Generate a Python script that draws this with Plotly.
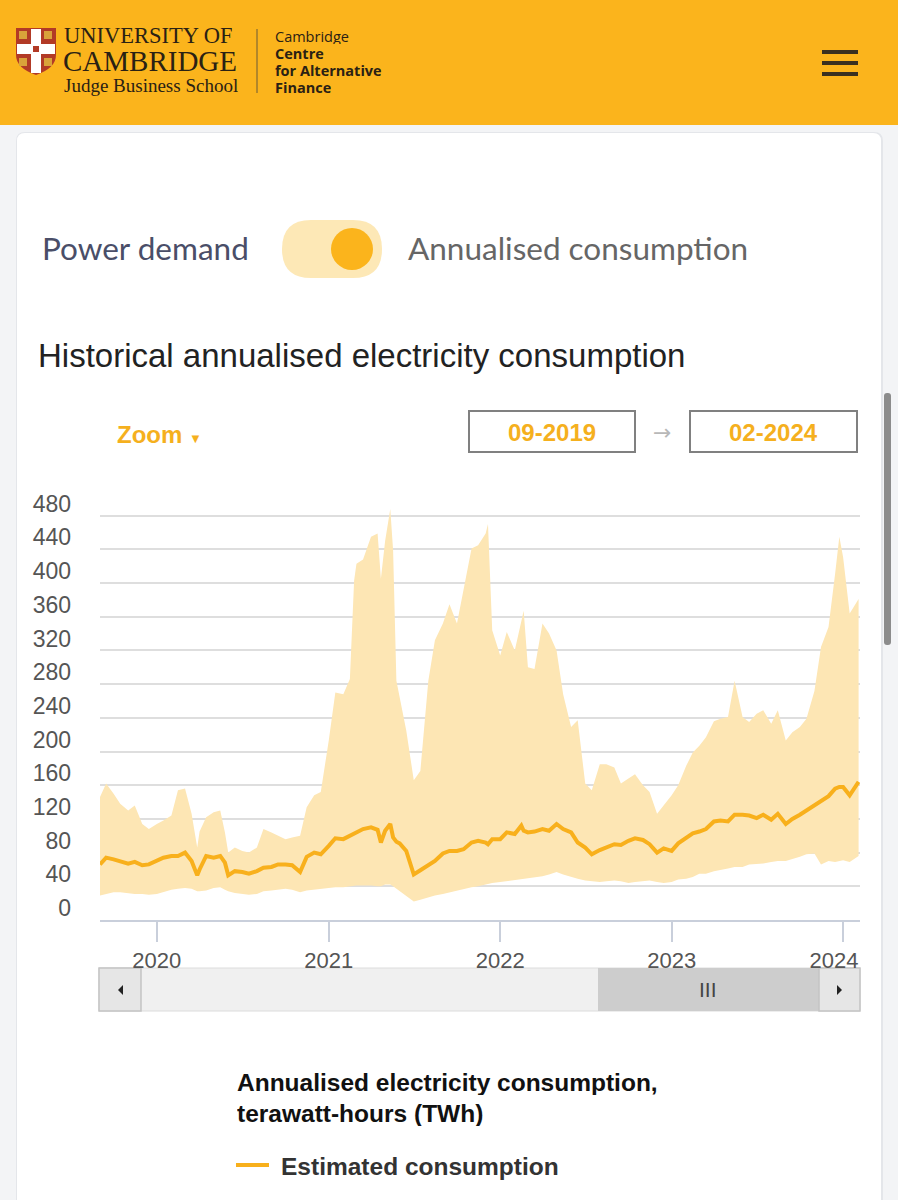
import plotly.graph_objects as go

W, H = 898, 1200

# ---------------- data ----------------
dates = [
    "2019-09-02", "2019-09-15", "2019-10-01", "2019-10-15", "2019-11-01", "2019-11-15", "2019-12-01", "2019-12-15",
    "2020-01-01", "2020-01-15", "2020-02-01", "2020-02-15", "2020-03-01", "2020-03-15", "2020-03-27", "2020-04-01",
    "2020-04-15", "2020-05-01", "2020-05-15", "2020-05-25", "2020-06-01", "2020-06-15", "2020-07-01", "2020-07-15",
    "2020-08-01", "2020-08-15", "2020-09-01", "2020-09-15", "2020-10-01", "2020-10-15", "2020-11-01", "2020-11-15",
    "2020-12-01", "2020-12-15",
    "2021-01-01", "2021-01-15", "2021-02-01", "2021-02-15", "2021-02-24", "2021-03-01", "2021-03-15", "2021-04-01",
    "2021-04-15", "2021-04-22", "2021-05-01", "2021-05-12", "2021-05-18", "2021-05-25", "2021-06-01", "2021-06-15",
    "2021-07-01", "2021-07-15", "2021-08-01", "2021-08-15", "2021-09-01", "2021-09-15", "2021-10-01", "2021-10-15",
    "2021-11-01", "2021-11-15", "2021-12-01", "2021-12-06", "2021-12-15",
    "2022-01-01", "2022-01-15", "2022-02-01", "2022-02-15", "2022-02-20", "2022-03-01", "2022-03-15", "2022-04-01",
    "2022-04-15", "2022-05-01", "2022-05-15", "2022-06-01", "2022-06-15", "2022-07-01", "2022-07-15", "2022-08-01",
    "2022-08-15", "2022-09-01", "2022-09-15", "2022-10-01", "2022-10-15", "2022-11-01", "2022-11-15", "2022-12-01",
    "2022-12-15",
    "2023-01-01", "2023-01-15", "2023-02-01", "2023-02-15", "2023-03-01", "2023-03-15", "2023-04-01", "2023-04-15",
    "2023-05-01", "2023-05-15", "2023-06-01", "2023-06-15", "2023-07-01", "2023-07-15", "2023-08-01", "2023-08-15",
    "2023-09-01", "2023-09-15", "2023-10-01", "2023-10-15", "2023-11-01", "2023-11-15", "2023-12-01", "2023-12-15",
    "2023-12-24", "2024-01-01", "2024-01-15", "2024-02-03",
]

upper = [
    146, 162, 150, 138, 130, 136, 114, 108,
    114, 118, 124, 154, 156, 126, 86, 105,
    122, 128, 130, 104, 80, 86, 82, 80,
    86, 108, 104, 100, 96, 98, 100, 134,
    148, 152,
    213, 270, 268, 286, 403, 423, 428, 455,
    459, 405, 450, 488, 439, 284, 264, 225,
    166, 177, 284, 332, 352, 375, 352, 391,
    441, 445, 459, 470, 344,
    314, 342, 320, 356, 367, 300, 298, 352,
    340, 320, 268, 229, 237, 162, 154, 185,
    185, 181, 162, 168, 173, 160, 152, 126,
    136,
    148, 160, 183, 199, 207, 217, 236, 239,
    241, 284, 241, 235, 245, 249, 233, 249,
    213, 223, 229, 239, 272, 324, 348, 411,
    455, 431, 364, 381,
]

estimate = [
    66, 74, 72, 70, 67, 69, 65, 66,
    70, 74, 76, 76, 80, 70, 53, 60,
    76, 74, 76, 68, 53, 58, 57, 55,
    58, 62, 63, 66, 66, 65, 57, 75,
    80, 78,
    88, 97, 96, 100, 103, 104, 108, 110,
    107, 92, 106, 114, 98, 93, 91, 82,
    54, 59, 65, 70, 79, 82, 82, 84,
    92, 94, 92, 90, 96,
    96, 104, 102, 112, 106, 104, 105, 108,
    106, 114, 108, 104, 92, 86, 78, 83,
    86, 90, 89, 94, 97, 95, 90, 80,
    85,
    82, 91, 97, 103, 105, 108, 117, 118,
    117, 125, 125, 124, 121, 125, 119, 126,
    114, 120, 125, 130, 136, 140, 147, 156,
    158, 158, 148, 164,
]

lower = [
    29, 31, 33, 33, 32, 31, 31, 30,
    31, 33, 36, 37, 38, 37, 34, 34,
    35, 38, 39, 36, 34, 32, 31, 30,
    31, 34, 35, 36, 37, 36, 33, 35,
    36, 37,
    38, 39, 39, 40, 40, 41, 41, 41,
    40, 40, 42, 42, 40, 37, 34, 28,
    22, 24, 27, 29, 31, 33, 35, 37,
    39, 40, 42, 42, 44,
    45, 46, 48, 49, 49, 50, 51, 52,
    54, 57, 54, 51, 49, 47, 46, 45,
    46, 47, 46, 44, 45, 46, 47, 45,
    44,
    45, 48, 49, 51, 55, 55, 58, 59,
    61, 63, 63, 66, 67, 67, 69, 70,
    70, 72, 75, 78, 79, 66, 70, 69,
    70, 71, 69, 76,
]

y_ticks = [0, 40, 80, 120, 160, 200, 240, 280, 320, 360, 400, 440, 480, 520]
y_tick_text = ["0", "40", "80", "120", "160", "200", "240", "280", "320", "360", "400", "440", "480", ""]
x_ticks = ["2020-01-01", "2021-01-01", "2022-01-01", "2023-01-01", "2024-01-01"]
x_tick_text = ["2020", "2021", "2022", "2023", "2024\u00a0\u00a0\u00a0"]

# ---------------- colours ----------------
YELLOW = "#FBB41C"
LINE = "#F8B01C"
BAND = "#FDE6B4"
GRID = "#dedede"
AXIS = "#c9cfdb"
TICKTXT = "#555555"


def fx(x):
    return x / W


def fy(y):
    return 1 - y / H


shapes = []
annots = []


def rect(x0, y0, x1, y1, fill, line=None, lw=0):
    shapes.append(dict(type="rect", xref="paper", yref="paper",
                       x0=fx(x0), x1=fx(x1), y0=fy(y1), y1=fy(y0),
                       fillcolor=fill, line=dict(color=line or fill, width=lw), layer="below"))


def path(points, fill, line=None, lw=0, closed=True, layer="below"):
    d = ""
    for i, p in enumerate(points):
        if p[0] == "Q":
            d += f" Q{fx(p[1])},{fy(p[2])} {fx(p[3])},{fy(p[4])}"
        else:
            d += (" M" if i == 0 else " L") + f"{fx(p[0])},{fy(p[1])}"
    if closed:
        d += " Z"
    shapes.append(dict(type="path", xref="paper", yref="paper", path=d.strip(),
                       fillcolor=fill, line=dict(color=line or fill, width=lw), layer=layer))


def rrect(x0, y0, x1, y1, r, fill, line=None, lw=0):
    pts = [(x0 + r, y0), (x1 - r, y0), ("Q", x1, y0, x1, y0 + r), (x1, y1 - r),
           ("Q", x1, y1, x1 - r, y1), (x0 + r, y1), ("Q", x0, y1, x0, y1 - r),
           (x0, y0 + r), ("Q", x0, y0, x0 + r, y0)]
    path(pts, fill, line, lw)


def circle(cx, cy, r, fill):
    shapes.append(dict(type="circle", xref="paper", yref="paper",
                       x0=fx(cx - r), x1=fx(cx + r), y0=fy(cy + r), y1=fy(cy - r),
                       fillcolor=fill, line=dict(width=0), layer="below"))


def hline(x0, x1, y, color, w):
    shapes.append(dict(type="line", xref="paper", yref="paper",
                       x0=fx(x0), x1=fx(x1), y0=fy(y), y1=fy(y),
                       line=dict(color=color, width=w), layer="above"))


def vline(x, y0, y1, color, w):
    shapes.append(dict(type="line", xref="paper", yref="paper",
                       x0=fx(x), x1=fx(x), y0=fy(y0), y1=fy(y1),
                       line=dict(color=color, width=w), layer="above"))


def text(x, y, s, size, color, family="Liberation Sans", anchor="left", box_h=None):
    a = dict(x=fx(x), y=fy(y), xref="paper", yref="paper", text=s,
             showarrow=False, xanchor=anchor, yanchor="middle", borderpad=0,
             font=dict(size=size, color=color, family=family))
    if box_h is not None:
        a["height"] = box_h
    annots.append(a)


# ---------------- page background / card ----------------
rrect(16, 132, 883, 1230, 9, "#e4e6ea")
rrect(17, 133, 881, 1230, 8, "#ffffff")

# header
rect(0, 0, W, 125, YELLOW)
# shield
path([(16, 28), (56, 28), (56, 55), ("Q", 56, 68, 36, 75), ("Q", 16, 68, 16, 55)], "#B23A26")
rect(31, 29, 41, 73, "#ffffff")
rect(17, 44, 55, 54, "#ffffff")
rect(33, 46, 39, 52, "#B23A26")
for (cx, cy) in [(23, 35), (48, 35), (23, 62), (48, 62)]:
    rect(cx - 4, cy - 4, cx + 4, cy + 4, "#D9A23A")
text(63, 35, "UNIVERSITY OF", 22.5, "#2a2114", "Liberation Serif", box_h=18)
text(62, 61, "CAMBRIDGE", 29, "#2a2114", "Liberation Serif", box_h=22)
text(63, 86, "Judge Business School", 19, "#2a2114", "Liberation Serif", box_h=21)
vline(257, 29, 93, "#6b5a36", 1)
text(274, 36, "Cambridge", 14.5, "#2a2114", "Open Sans", box_h=15)
text(274, 53, "<b>Centre</b>", 14.5, "#2a2114", "Open Sans", box_h=15)
text(274, 70, "<b>for Alternative</b>", 14.5, "#2a2114", "Open Sans", box_h=15)
text(274, 87, "<b>Finance</b>", 14.5, "#2a2114", "Open Sans", box_h=15)
for yy in (52, 63, 74):
    hline(822, 858, yy, "#3a3020", 4)

# browser scrollbar
rrect(884, 393, 891, 645, 3, "#8c8c8c")

# toggle row
text(41, 248, "Power demand", 31.5, "#4a4e68", "Lato")
rrect(282, 220, 382, 278, 29, "#FDE8B6")
circle(352, 249, 21, YELLOW)
text(407, 248, "Annualised consumption", 31.5, "#666666", "Lato")

# chart title
text(37, 355, "Historical annualised electricity consumption", 33, "#222222", "Liberation Sans")

# zoom + date range boxes
text(116, 434, "<b>Zoom</b> <span style='font-size:13px'>▼</span>", 24, "#F5B01E", "Liberation Sans")
rect(469, 411, 635, 452, "#ffffff", "#808080", 2)
text(552, 432, "<b>09-2019</b>", 24, "#F5B01E", "Liberation Sans", "center")
text(662, 432, "→", 22, "#b8b8b8", "DejaVu Sans", "center")
rect(690, 411, 857, 452, "#ffffff", "#808080", 2)
text(773, 432, "<b>02-2024</b>", 24, "#F5B01E", "Liberation Sans", "center")

# chart scrollbar
rect(99, 968, 860, 1011, "#f0f0f0", "#dcdcdc", 1)
rect(99, 968, 141, 1011, "#e6e6e6", "#c4c4c4", 1.5)
rect(598, 968, 819, 1011, "#cdcdcd", "#cdcdcd", 0)
rect(819, 968, 860, 1011, "#e6e6e6", "#c4c4c4", 1.5)
path([(118, 990), (123, 985), (123, 995)], "#222222")
path([(842, 990), (837, 985), (837, 995)], "#222222")
text(708, 989, "III", 21, "#444444", "Liberation Sans", "center")

# legend block
text(236, 1082, "<b>Annualised electricity consumption,</b>", 24.5, "#111111", "Liberation Sans", box_h=26)
text(236, 1113, "<b>terawatt-hours (TWh)</b>", 24.5, "#111111", "Liberation Sans", box_h=26)
hline(236, 269, 1165, LINE, 4)
text(280, 1166, "<b>Estimated consumption</b>", 24.5, "#333333", "Liberation Sans")

# ---------------- traces ----------------
fig = go.Figure()
fig.add_trace(go.Scatter(x=dates, y=lower, mode="lines", line=dict(width=0, color=BAND),
                         hoverinfo="skip", showlegend=False))
fig.add_trace(go.Scatter(x=dates, y=upper, mode="lines", line=dict(width=0, color=BAND),
                         fill="tonexty", fillcolor=BAND, hoverinfo="skip", showlegend=False))
fig.add_trace(go.Scatter(x=dates, y=estimate, mode="lines", name="Estimated consumption",
                         line=dict(width=4, color=LINE), showlegend=False))

fig.update_layout(
    width=W, height=H,
    margin=dict(l=0, r=0, t=0, b=0, pad=0, autoexpand=False),
    paper_bgcolor="#f3f4f6",
    plot_bgcolor="rgba(0,0,0,0)",
    shapes=shapes,
    annotations=annots,
    showlegend=False,
    xaxis=dict(
        type="date", range=["2019-09-02", "2024-02-06"],
        domain=[fx(100), fx(860)],
        tickvals=x_ticks, ticktext=x_tick_text,
        showgrid=False, zeroline=False, automargin=False,
        showline=True, linecolor=AXIS, linewidth=1.5,
        ticks="outside", ticklen=20, tickcolor=AXIS, tickwidth=1.5,
        tickfont=dict(size=22, color=TICKTXT, family="Liberation Sans"),
        fixedrange=True,
    ),
    yaxis=dict(
        range=[0, 520],
        domain=[fy(920), fy(482)],
        tickvals=y_ticks, ticktext=y_tick_text,
        showgrid=True, gridcolor=GRID, gridwidth=1.5,
        zeroline=False, showline=False, ticks="", automargin=False,
        ticklabelstandoff=28, ticklabelshift=-12,
        tickfont=dict(size=23, color=TICKTXT, family="Liberation Sans"),
        fixedrange=True,
    ),
)

fig.write_html(
    "out.html",
    config={"displayModeBar": False, "responsive": False},
    post_script="document.body.style.margin='0';document.body.style.padding='0';",
)
